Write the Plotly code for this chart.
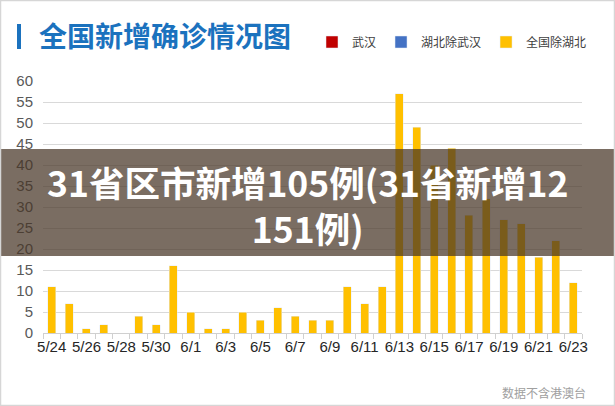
"""全国新增确诊情况图 (5/24 - 6/23), redrawn with plotly."""
import plotly.graph_objects as go

dates = [
    "5/24", "5/25", "5/26", "5/27", "5/28", "5/29", "5/30", "5/31",
    "6/1", "6/2", "6/3", "6/4", "6/5", "6/6", "6/7", "6/8", "6/9", "6/10",
    "6/11", "6/12", "6/13", "6/14", "6/15", "6/16", "6/17", "6/18", "6/19",
    "6/20", "6/21", "6/22", "6/23",
]
wuhan = [0] * len(dates)
hubei_ex_wuhan = [0] * len(dates)
national_ex_hubei = [
    11, 7, 1, 2, 0, 4, 2, 16,
    5, 1, 1, 5, 3, 6, 4, 3, 3, 11,
    7, 11, 57, 49, 40, 44, 28, 32, 27,
    26, 18, 22, 12,
]
tick_text = [d if i % 2 == 0 else "" for i, d in enumerate(dates)]

W, H = 615, 406
L, R, T, B = 43, 582, 81, 333   # plot area in px


def px(x):
    return (x - L) / (R - L)


def py(y):
    return (B - y) / (B - T)


fig = go.Figure()
fig.add_bar(x=dates, y=wuhan, name="武汉", marker_color="#c00000")
fig.add_bar(x=dates, y=hubei_ex_wuhan, name="湖北除武汉", marker_color="#4472c4")
fig.add_bar(x=dates, y=national_ex_hubei, name="全国除湖北", marker_color="#ffc000")

fig.update_layout(
    width=W, height=H, autosize=False,
    margin=dict(l=L, r=W - R, t=T, b=H - B, pad=0),
    paper_bgcolor="white", plot_bgcolor="white",
    barmode="stack", bargap=0.54,
    font=dict(family="Liberation Sans, Arial, sans-serif"),
    title=dict(
        text="<b>全国新增确诊情况图</b>",
        font=dict(family="Noto Sans CJK SC", size=28, color="#1b72be"),
        xref="container", x=39 / W, xanchor="left",
        yref="container", y=1 - 37 / H, yanchor="middle",
    ),
    legend=dict(
        orientation="h", x=px(592), xanchor="right", y=py(42), yanchor="middle",
        font=dict(family="Noto Sans CJK SC", size=12, color="#404040"),
        itemwidth=30, traceorder="normal",
    ),
    xaxis=dict(
        type="category", tickmode="array", tickvals=dates, ticktext=tick_text,
        tickson="boundaries", ticks="outside", ticklen=5, tickcolor="#d0d0d0",
        showline=True, linecolor="#d0d0d0", showgrid=False, tickangle=0,
        tickfont=dict(size=15, color="#262626"),
    ),
    yaxis=dict(
        range=[0, 60], dtick=5, showgrid=True, gridcolor="#d9d9d9",
        zeroline=False, showline=False, ticks="", ticklabelstandoff=9,
        tickfont=dict(size=15, color="#595959"),
    ),
    shapes=[
        # blue marker before the title
        dict(type="rect", xref="paper", yref="paper",
             x0=px(17), x1=px(21), y0=py(49), y1=py(24),
             fillcolor="#1b72be", line_width=0, layer="above"),
        # dark banner across the chart
        dict(type="rect", xref="paper", yref="paper",
             x0=px(0), x1=px(W), y0=py(256), y1=py(149),
             fillcolor="rgba(70,52,38,0.72)", line_width=0, layer="above"),
        # thin frame round the picture
        dict(type="rect", xref="paper", yref="paper",
             x0=px(0.5), x1=px(W - 0.5), y0=py(H - 0.5), y1=py(0.5),
             line=dict(color="#d6d6d6", width=1.5), layer="above"),
    ],
    annotations=[
        dict(text="<b>31省区市新增105例(31省新增12<br>151例)</b>",
             xref="paper", yref="paper", x=px(307), y=py(204.5),
             xanchor="center", yanchor="middle", align="center", showarrow=False,
             font=dict(family="Noto Sans CJK SC", size=35.5, color="white")),
        dict(text="数据不含港澳台", xref="paper", yref="paper",
             x=px(588), y=py(392), xanchor="right", yanchor="middle", showarrow=False,
             font=dict(family="Noto Sans CJK SC", size=12, color="#a0a0a0")),
    ],
)

# the page's default body margin would shift the chart by 8px
fig.write_html(
    "out.html",
    config={"displayModeBar": False},
    post_script="document.body.style.margin='0';",
)
